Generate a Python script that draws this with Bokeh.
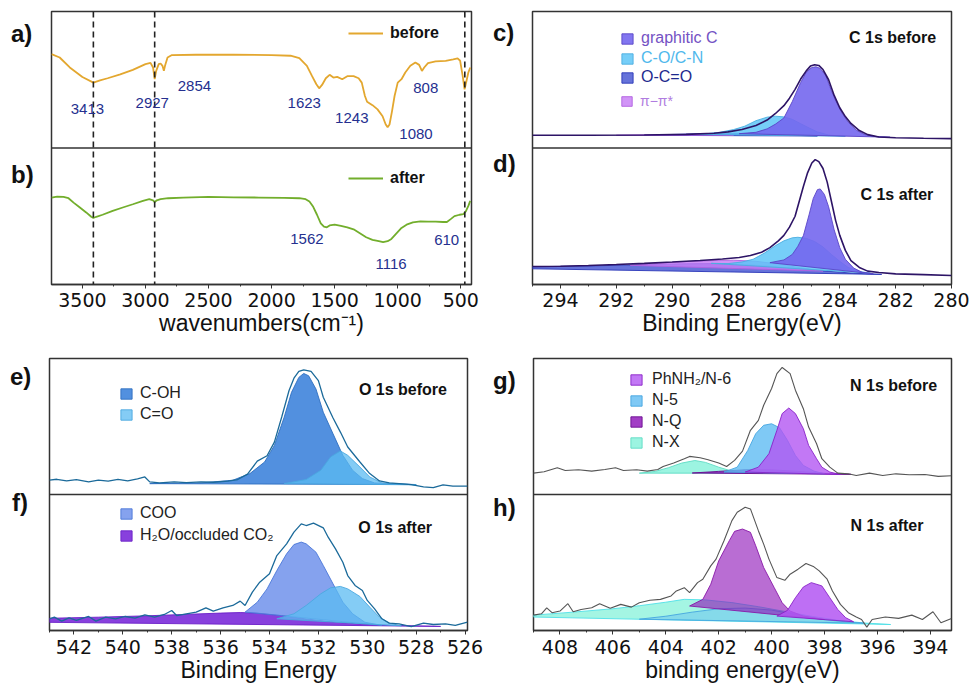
from bokeh.plotting import figure
from bokeh.models import Range1d, Span, Label, Legend, LegendItem, SingleIntervalTicker, Div
from bokeh.layouts import row, column
from bokeh.embed import file_html
from bokeh.resources import INLINE

FONT = "Liberation Sans"
TICK_FONT = "DejaVu Sans"

# ---------------- FTIR (panels a, b) ----------------
wn_before = [3745, 3680, 3600, 3500, 3413, 3360, 3300, 3200, 3100, 3000, 2960, 2940, 2927, 2915, 2895,
             2880, 2865, 2854, 2845, 2825, 2790, 2600, 2300, 2000, 1850, 1780, 1720, 1680, 1645, 1623,
             1600, 1570, 1540, 1510, 1480, 1440, 1400, 1350, 1310, 1285, 1260, 1243, 1200, 1160, 1120,
             1095, 1080, 1065, 1045, 1025, 1000, 970, 940, 900, 860, 830, 808, 790, 760, 700,
             620, 560, 525, 505, 485, 470, 455, 440, 425]
t_before = [68.8, 66.3, 59.0, 52.0, 47.9, 49.6, 51.1, 54.0, 57.2, 61.4, 62.4, 59.0, 50.4, 56.5, 61.4,
            61.9, 60.2, 56.5, 60.2, 66.3, 68.1, 68.3, 68.3, 68.1, 67.6, 65.8, 60.2, 52.8, 46.7, 43.7,
            46.2, 51.1, 53.6, 51.6, 52.1, 50.4, 52.6, 52.6, 51.1, 47.9, 38.1, 33.9, 31.4, 28.3, 23.3,
            17.2, 15.2, 17.2, 27.0, 38.1, 47.9, 50.4, 55.3, 60.2, 62.7, 60.9, 56.5, 59.0, 62.2, 63.4,
            63.9, 64.9, 65.6, 63.9, 52.8, 43.0, 49.1, 55.3, 59.0]
wn_after = [3745, 3700, 3650, 3610, 3570, 3520, 3470, 3430, 3413, 3390, 3340, 3260, 3180, 3100, 3020,
            2970, 2940, 2927, 2910, 2880, 2820, 2700, 2500, 2300, 2100, 1900, 1780, 1730, 1700, 1670,
            1640, 1610, 1585, 1562, 1540, 1500, 1450, 1400, 1350, 1300, 1250, 1200, 1150, 1116, 1080,
            1050, 1010, 970, 930, 880, 820, 760, 700, 640, 610, 580, 550, 510, 480, 460, 440, 425]
t_after = [63.7, 64.4, 64.2, 63.2, 60.0, 56.4, 52.8, 49.6, 48.7, 49.6, 51.1, 54.0, 56.4, 58.8, 61.3,
           62.5, 61.7, 60.3, 61.7, 62.5, 63.2, 63.7, 64.2, 63.9, 63.7, 63.4, 63.2, 62.5, 60.8, 56.9,
           51.1, 44.8, 42.4, 41.9, 43.3, 43.8, 42.9, 41.9, 40.4, 37.5, 34.6, 32.7, 31.7, 31.0, 31.7,
           33.4, 37.5, 41.4, 43.8, 45.5, 46.2, 46.0, 46.0, 45.8, 45.8, 47.9, 50.1, 51.1, 51.6, 53.5,
           57.6, 61.3]
ir_marks = [3413, 2927, 468]
ir_top_labels = ["3413", "2927", "2854", "1623", "1243", "1080", "808"]
ir_top_x = [3460, 2946, 2612, 1741, 1364, 855, 778]
ir_top_y = [28.3, 33.2, 45.5, 33.2, 21.7, 10.6, 44.2]
ir_bot_labels = ["1562", "1116", "610"]
ir_bot_x = [1720, 1053, 612]
ir_bot_y = [33.4, 15.3, 32.7]

# ---------------- C 1s (panels c, d) ----------------
c_env_E = [295.0, 293.0, 291.0, 289.5, 288.5, 288.0, 287.5, 287.0, 286.6, 286.3, 286.0, 285.8, 285.6, 285.4,
           285.2, 285.05, 284.9, 284.75, 284.6, 284.4, 284.2, 284.0, 283.8, 283.6, 283.3, 283.0, 282.6,
           282.0, 281.0, 280.0]
c_env = [9.3, 9.3, 9.5, 10.0, 10.8, 11.8, 13.5, 16.5, 20.5, 25.3, 31.0, 36.5, 43.0, 50.5,
         56.5, 60.0, 61.0, 60.5, 57.5, 50.0, 38.5, 29.5, 23.0, 18.0, 12.8, 9.8, 8.1,
         7.5, 7.1, 6.9]
c_gr_E = [287.6, 287.0, 286.6, 286.3, 286.0, 285.7, 285.4, 285.2, 285.0, 284.85, 284.7, 284.5, 284.3, 284.1,
          283.9, 283.7, 283.4, 283.1, 282.7, 282.2]
c_gr = [10.5, 11.5, 14.0, 17.5, 22.0, 34.0, 48.0, 55.5, 59.0, 59.5, 58.3, 53.0, 42.0, 32.5,
        25.0, 19.0, 13.0, 9.8, 8.4, 7.9]
c_co_E = [289.0, 288.3, 287.8, 287.4, 287.0, 286.6, 286.3, 286.0, 285.7, 285.4, 285.1, 284.8, 284.4, 283.8]
c_co = [10.0, 11.5, 13.5, 16.0, 20.0, 22.6, 23.3, 22.8, 21.0, 17.8, 14.7, 11.8, 9.5, 8.6]
c_oco_E = [291.0, 290.0, 289.0, 288.2, 287.4, 286.6, 285.8, 284.8]
c_oco = [9.3, 9.9, 10.5, 10.8, 10.6, 10.0, 9.4, 8.8]
c_pi_E = [292.0, 291.0, 290.0, 289.2, 288.5, 287.8]
c_pi = [9.3, 9.6, 9.9, 10.0, 9.8, 9.4]

d_env_E = [295.0, 294.0, 293.0, 292.0, 291.0, 290.0, 289.0, 288.2, 287.6, 287.2, 286.8, 286.5, 286.2, 286.0,
           285.8, 285.6, 285.45, 285.3, 285.15, 285.0, 284.88, 284.75, 284.6, 284.45, 284.3, 284.15, 284.0,
           283.8, 283.6, 283.3, 283.0, 282.6, 282.0, 281.0, 280.0]
d_env = [13.2, 13.4, 13.9, 14.6, 15.5, 16.5, 17.6, 18.7, 19.8, 21.2, 23.6, 27.0, 32.0, 36.0,
         42.0, 50.0, 61.0, 72.0, 82.0, 89.0, 91.5, 90.0, 85.0, 75.0, 61.0, 47.0, 36.0,
         25.0, 17.5, 12.5, 9.8, 8.8, 7.8, 7.2, 6.6]
d_gr_E = [286.5, 286.0, 285.7, 285.5, 285.3, 285.1, 284.95, 284.8, 284.7, 284.55, 284.4, 284.2, 284.0, 283.8,
          283.5, 283.2, 282.8]
d_gr = [16.0, 18.0, 22.0, 28.0, 36.0, 51.0, 63.0, 69.5, 70.0, 66.0, 57.0, 40.0, 27.0, 18.5,
        12.0, 9.0, 7.8]
d_co_E = [288.6, 288.0, 287.5, 287.1, 286.7, 286.3, 286.0, 285.7, 285.5, 285.2, 284.9, 284.6, 284.3, 284.0,
          283.7, 283.3, 282.9]
d_co = [15.5, 15.3, 16.5, 18.5, 23.0, 28.5, 32.0, 34.2, 34.6, 33.8, 31.5, 27.5, 22.0, 17.0,
        12.5, 9.5, 8.3]
d_oco_E = [295.0, 295.0, 293.0, 291.0, 289.5, 288.5, 287.5, 286.5, 285.5, 284.5, 283.5, 282.5]
d_oco = [11.5, 13.0, 13.6, 14.5, 15.2, 15.3, 14.8, 13.5, 11.8, 9.8, 8.3, 7.4]
d_pi_E = [291.5, 290.5, 289.5, 288.5, 287.8, 287.0, 286.2, 285.4, 284.6]
d_pi = [14.0, 15.5, 16.8, 17.6, 17.8, 17.0, 15.0, 12.2, 9.8]

# ---------------- O 1s (panels e, f) ----------------
e_env_E = [543.0, 542.7, 542.3, 541.9, 541.4, 541.0, 540.6, 540.2, 539.8, 539.4, 539.1, 538.9, 538.5, 537.9,
           537.4, 536.8, 536.3, 535.7, 535.3, 534.9, 534.5, 534.1, 533.8, 533.5, 533.2, 533.0, 532.8, 532.6,
           532.3, 532.0, 531.8, 531.4, 531.1, 530.8, 530.3, 529.9, 529.5, 529.1, 528.7, 528.2, 527.7, 527.3,
           526.9, 526.5, 525.9]
e_env = [10.5, 11.2, 10.0, 11.0, 9.3, 10.5, 9.8, 11.2, 10.0, 11.5, 12.9, 9.3, 8.5, 9.3,
         8.8, 9.3, 9.0, 9.8, 11.0, 15.0, 24.5, 28.5, 38.5, 57.0, 76.5, 85.5, 90.5, 91.7,
         90.5, 83.7, 71.5, 56.3, 45.9, 34.9, 23.9, 15.4, 10.0, 8.5, 8.0, 7.3, 5.6, 5.1,
         7.1, 6.1, 6.1]
e_coh_E = [538.9, 536.8, 535.5, 534.8, 534.2, 533.8, 533.4, 533.1, 532.8, 532.6, 532.4, 532.1, 531.8, 531.4,
           531.0, 530.6, 530.2, 529.7, 528.0]
e_coh = [8.0, 8.5, 10.5, 15.4, 23.9, 36.1, 56.8, 75.1, 86.1, 89.0, 87.3, 77.6, 60.5, 44.6,
         28.8, 17.8, 11.7, 8.5, 7.3]
e_co_E = [533.4, 532.5, 531.9, 531.5, 531.1, 530.8, 530.3, 529.9, 529.4, 528.0]
e_co = [8.0, 11.0, 17.8, 27.6, 32.0, 28.8, 20.2, 12.9, 8.5, 7.1]

f_env_E = [543.0, 542.8, 542.5, 542.2, 541.9, 541.4, 541.1, 540.7, 540.3, 539.9, 539.5, 539.1, 538.7, 538.3,
           538.0, 537.8, 537.4, 537.0, 536.6, 536.3, 535.9, 535.5, 535.2, 535.0, 534.7, 534.4, 534.0, 533.7,
           533.3, 533.0, 532.7, 532.5, 532.2, 531.8, 531.6, 531.3, 531.0, 530.8, 530.5, 530.2, 530.0, 529.7,
           529.4, 529.1, 528.7, 528.2, 527.7, 527.3, 526.8, 526.4, 525.9]
f_env = [8.6, 9.8, 6.9, 9.3, 7.4, 10.3, 6.9, 9.8, 8.6, 10.3, 9.1, 11.5, 9.8, 11.8,
         14.7, 11.0, 12.3, 13.5, 16.7, 14.2, 16.7, 18.4, 21.6, 18.4, 28.2, 35.5, 41.7, 55.1,
         63.7, 72.3, 78.4, 77.2, 78.9, 75.5, 68.6, 60.0, 50.2, 40.4, 33.1, 29.4, 22.1, 15.9,
         8.6, 5.4, 4.9, 2.9, 5.4, 4.4, 4.9, 3.7, 6.1]
f_coo_E = [535.0, 534.5, 534.1, 533.7, 533.3, 533.0, 532.7, 532.5, 532.1, 531.8, 531.4, 531.0, 530.6, 530.1, 529.4]
f_coo = [13.5, 20.8, 30.6, 44.1, 56.4, 63.2, 65.0, 63.7, 57.6, 47.8, 34.3, 20.8, 12.3, 6.1, 3.7]
f_co_E = [533.7, 533.0, 532.5, 531.9, 531.5, 531.1, 530.8, 530.3, 529.9, 529.5, 529.1, 528.6]
f_co = [8.6, 12.3, 18.4, 27.0, 31.4, 32.4, 30.6, 25.0, 17.2, 9.8, 5.4, 3.4]
f_h2o_E = [543.0, 543.0, 541.0, 539.0, 537.5, 536.0, 535.2, 534.5, 533.5, 532.5, 531.5, 530.5, 529.5, 528.0, 527.0]
f_h2o = [6.0, 9.0, 9.8, 10.8, 11.8, 12.8, 13.2, 12.8, 11.0, 8.5, 6.5, 5.0, 4.0, 3.4, 3.0]

# ---------------- N 1s (panels g, h) ----------------
g_env_E = [409.0, 408.6, 408.1, 407.8, 407.3, 406.8, 406.3, 405.9, 405.6, 405.1, 404.7, 404.3, 404.1, 403.7,
           403.3, 403.1, 402.7, 402.4, 402.0, 401.7, 401.4, 401.1, 400.8, 400.5, 400.3, 400.0, 399.8, 399.6,
           399.3, 399.1, 398.8, 398.6, 398.3, 398.1, 397.8, 397.5, 397.1, 396.8, 396.3, 395.8, 395.3, 394.8,
           394.2, 393.7, 393.2]
g_env = [15.7, 16.7, 19.7, 17.7, 18.2, 17.2, 18.4, 19.7, 17.7, 18.2, 17.2, 18.4, 20.6, 23.1,
         26.3, 28.0, 27.0, 25.6, 23.1, 20.6, 25.1, 31.9, 47.2, 54.5, 65.6, 77.9, 88.9, 93.4,
         88.9, 76.7, 63.1, 49.6, 37.3, 26.3, 20.1, 15.7, 15.2, 14.0, 15.7, 14.0, 15.2, 14.5,
         14.7, 13.3, 13.8]
g_ph_E = [401.0, 400.5, 400.1, 399.8, 399.6, 399.35, 399.1, 398.8, 398.6, 398.3, 398.1, 397.8, 397.4]
g_ph = [16.5, 20.1, 30.0, 47.2, 59.5, 63.6, 59.5, 48.4, 36.1, 26.3, 20.1, 16.5, 14.7]
g_n5_E = [401.8, 401.3, 400.9, 400.6, 400.3, 400.0, 399.7, 399.4, 399.1, 398.8, 398.4, 398.0]
g_n5 = [16.5, 20.1, 32.4, 44.7, 50.9, 52.0, 49.1, 39.8, 28.7, 21.4, 17.2, 15.2]
g_nq_E = [403.0, 402.0, 401.0, 400.0, 399.0, 398.0, 397.0]
g_nq = [15.8, 17.0, 18.2, 18.2, 17.0, 15.6, 14.8]
g_nx_E = [405.0, 404.4, 403.9, 403.4, 402.9, 402.5, 402.0, 401.5, 400.9]
g_nx = [15.7, 17.0, 19.7, 23.1, 25.0, 23.6, 20.1, 17.2, 15.7]

h_env_E = [409.0, 408.7, 408.5, 408.3, 408.0, 407.7, 407.5, 407.2, 406.8, 406.5, 406.1, 405.7, 405.3, 405.0,
           404.6, 404.2, 403.8, 403.6, 403.3, 403.1, 402.8, 402.6, 402.3, 402.1, 401.8, 401.5, 401.3, 401.0,
           400.8, 400.5, 400.3, 400.1, 399.8, 399.5, 399.3, 399.0, 398.7, 398.4, 398.2, 397.9, 397.7, 397.4,
           397.1, 396.8, 396.6, 396.4, 396.2, 395.7, 395.2, 394.7, 394.3, 393.9, 393.6, 393.2]
h_env = [11.3, 12.3, 16.7, 13.1, 14.3, 19.7, 13.8, 15.5, 16.7, 19.7, 16.3, 19.2, 17.2, 20.4,
         22.2, 22.9, 25.4, 29.1, 31.5, 27.8, 35.2, 37.7, 47.5, 52.5, 66.0, 80.8, 86.9, 90.6,
         89.4, 73.4, 63.5, 52.5, 38.9, 36.9, 41.4, 45.1, 49.3, 46.8, 43.8, 37.7, 29.1, 19.2,
         13.1, 9.9, 8.1, 2.5, 8.1, 9.9, 8.9, 11.3, 8.1, 13.8, 5.7, 8.9]
h_nq_E = [403.1, 402.6, 402.3, 402.0, 401.6, 401.4, 401.1, 400.8, 400.6, 400.3, 399.9, 399.6, 399.3, 398.8, 398.0]
h_nq = [18.0, 22.9, 34.0, 51.2, 66.0, 72.9, 74.6, 72.2, 62.3, 46.3, 31.5, 20.4, 14.3, 10.6, 8.1]
h_ph_E = [399.8, 399.4, 399.1, 398.8, 398.5, 398.1, 397.8, 397.5, 397.2, 396.9]
h_ph = [10.6, 14.8, 24.1, 32.0, 35.2, 32.8, 24.1, 15.5, 9.4, 6.4]
h_nx_E = [409.0, 409.0, 407.5, 406.0, 405.0, 404.0, 403.3, 402.5, 401.5, 400.5, 399.5, 398.5, 397.5, 396.5, 395.5]
h_nx = [9.9, 11.3, 13.5, 16.0, 18.2, 20.8, 22.9, 22.5, 20.5, 17.5, 14.0, 10.5, 7.5, 5.5, 4.4]
h_n5_E = [405.0, 404.0, 403.0, 402.0, 401.0, 400.0, 399.0, 398.0, 397.0, 396.5]
h_n5 = [8.3, 10.5, 13.5, 16.0, 16.5, 15.0, 11.5, 8.0, 6.0, 5.4]

# ---------------- colours ----------------
C_GR, C_CO, C_OCO, C_PI = "#7467EE", "#5EC6F7", "#4454D2", "#C77DF5"
C_COH, C_CEO, C_COO, C_H2O = "#3F84DC", "#5BBBF2", "#6A8EEA", "#7B2BD9"
C_PH, C_N5, C_NQ, C_NX = "#B356F2", "#5FBBF2", "#8E14B8", "#86F2DA"
AX = "#333333"


def base_fig(w, h, bl, br, bt, bb, xs, xe, interval, xlabel, lab_standoff):
    p = figure(width=w, height=h, x_range=Range1d(xs, xe), y_range=Range1d(0, 2),
               output_backend="svg", toolbar_location=None, y_axis_location=None,
               min_border_left=bl, min_border_right=br, min_border_top=bt, min_border_bottom=bb,
               background_fill_color="white", border_fill_color="white", margin=(0, 0, 0, 0))
    p.extra_y_ranges = {"top": Range1d(-100, 100), "bot": Range1d(0, 200)}
    p.xgrid.visible = False
    p.ygrid.visible = False
    p.outline_line_color = AX
    p.outline_line_width = 1.5
    ax = p.xaxis[0]
    ax.ticker = SingleIntervalTicker(interval=interval, num_minor_ticks=2)
    ax.axis_label = xlabel
    ax.axis_line_color = AX
    ax.axis_line_width = 1.5
    ax.major_tick_line_color = AX
    ax.minor_tick_line_color = AX
    ax.major_tick_in = 0
    ax.major_tick_out = 4
    ax.minor_tick_in = 0
    ax.minor_tick_out = 2
    ax.major_label_standoff = lab_standoff
    ax.major_label_text_font = TICK_FONT
    ax.major_label_text_font_size = "19px"
    ax.major_label_text_color = "#111111"
    ax.axis_label_text_font = FONT
    ax.axis_label_text_font_size = "23px"
    ax.axis_label_text_font_style = "normal"
    ax.axis_label_text_color = "#111111"
    ax.axis_label_standoff = 0
    p.add_layout(Span(location=1, dimension="width", line_color=AX, line_width=1.5))
    return p


def text(p, x, y, s, rng, size, color, bold=False, align="center"):
    p.add_layout(Label(x=x, y=y, y_range_name=rng, text=s, text_font=FONT, text_font_size=size,
                       text_color=color, text_font_style="bold" if bold else "normal",
                       text_align=align, text_baseline="middle"))


def legend(p, items, loc, color, gw=14, gh=13, standoff=7, spacing=3, size="16px", bold=False):
    lg = Legend(items=[LegendItem(label=l, renderers=[r]) for l, r in items], location=loc,
                orientation="vertical", padding=0, margin=0, spacing=spacing,
                glyph_width=gw, glyph_height=gh, label_height=gh, label_standoff=standoff,
                label_text_font=FONT, label_text_font_size=size, label_text_color=color,
                label_text_font_style="bold" if bold else "normal",
                border_line_alpha=0, background_fill_alpha=0)
    p.add_layout(lg)


def comp(p, E, v, rng, color, edge, alpha=0.82):
    return p.patch(E, v, y_range_name=rng, fill_color=color, fill_alpha=alpha,
                   line_color=edge, line_width=1.0, line_alpha=0.9)


def letters(width, height, items):
    spans = "".join(
        '<span style="position:absolute;left:%dpx;top:%dpx;line-height:24px;">%s</span>' % (x, y, s)
        for s, x, y in items)
    html = ('<div style="position:relative;width:%dpx;height:%dpx;font-family:\'Liberation Sans\';'
            'font-weight:bold;font-size:24px;color:#111111;">%s</div>' % (width, height, spans))
    return Div(text=html, width=width, height=height, margin=(0, 0, 0, 0))


# ---------------- panel a/b ----------------
p_ab = base_fig(450, 345, 11, 19, 11, 61, 3745, 415, 500, "wavenumbers(cm⁻¹)", 4)
for m in ir_marks:
    p_ab.add_layout(Span(location=m, dimension="height", line_color="#222222", line_width=1.6,
                         line_dash="6 4"))
r_bef = p_ab.line(wn_before, t_before, y_range_name="top", line_color="#E3A72F", line_width=1.8)
r_aft = p_ab.line(wn_after, t_after, y_range_name="bot", line_color="#72AE2C", line_width=1.8)
for s, x, y in zip(ir_top_labels, ir_top_x, ir_top_y):
    text(p_ab, x, y, s, "top", "15px", "#25308F")
for s, x, y in zip(ir_bot_labels, ir_bot_x, ir_bot_y):
    text(p_ab, x, y, s, "bot", "15px", "#25308F")
legend(p_ab, [("before", r_bef)], (297, 240.7), "#111111", gw=35, gh=20, standoff=7, size="16px", bold=True)
legend(p_ab, [("after", r_aft)], (297, 96.3), "#111111", gw=35, gh=20, standoff=7, size="16px", bold=True)

# ---------------- panel c/d ----------------
p_cd = base_fig(440, 345, 2, 19, 11, 61, 295, 280, 2, "Binding Energy(eV)", 4)
r_c_oco = comp(p_cd, c_oco_E, c_oco, "top", C_OCO, "#2A36B8")
r_c_pi = comp(p_cd, c_pi_E, c_pi, "top", C_PI, "#B060E0")
r_c_co = comp(p_cd, c_co_E, c_co, "top", C_CO, "#4AAEE0", alpha=0.85)
r_c_gr = comp(p_cd, c_gr_E, c_gr, "top", C_GR, "#5A45C8", alpha=0.9)
p_cd.line(c_env_E, c_env, y_range_name="top", line_color="#2D1466", line_width=1.6)
r_d_oco = comp(p_cd, d_oco_E, d_oco, "bot", C_OCO, "#2A36B8")
r_d_pi = comp(p_cd, d_pi_E, d_pi, "bot", C_PI, "#B060E0")
r_d_co = comp(p_cd, d_co_E, d_co, "bot", C_CO, "#4AAEE0", alpha=0.85)
r_d_gr = comp(p_cd, d_gr_E, d_gr, "bot", C_GR, "#5A45C8", alpha=0.9)
p_cd.line(d_env_E, d_env, y_range_name="bot", line_color="#2D1466", line_width=1.6)
legend(p_cd, [("graphitic C", r_c_gr)], (88, 237), "#7452C4")
legend(p_cd, [("C-O/C-N", r_c_co)], (88, 217), "#4FB8EC")
legend(p_cd, [("O-C=O", r_c_oco)], (88, 198), "#1E2A8E")
legend(p_cd, [("π−π*", r_c_pi)], (88, 175), "#B07CE0", gw=13, gh=12, size="14px")
text(p_cd, 280.55, 81.1, "C 1s before", "top", "16px", "#111111", bold=True, align="right")
text(p_cd, 280.65, 66.1, "C 1s after", "bot", "16px", "#111111", bold=True, align="right")

# ---------------- panel e/f ----------------
p_ef = base_fig(450, 343, 9, 23, 13, 58, 543.0, 525.9, 2, "Binding Energy", 5)
r_e_coh = comp(p_ef, e_coh_E, e_coh, "top", C_COH, "#2F6FC0", alpha=0.9)
r_e_co = comp(p_ef, e_co_E, e_co, "top", C_CEO, "#4AA8E0", alpha=0.75)
p_ef.line(e_env_E, e_env, y_range_name="top", line_color="#1B6A9A", line_width=1.3)
r_f_h2o = comp(p_ef, f_h2o_E, f_h2o, "bot", C_H2O, "#6A20C8", alpha=0.9)
r_f_coo = comp(p_ef, f_coo_E, f_coo, "bot", C_COO, "#4A78D8")
r_f_co = comp(p_ef, f_co_E, f_co, "bot", C_CEO, "#4AA8E0", alpha=0.75)
p_ef.line(f_env_E, f_env, y_range_name="bot", line_color="#1B6A9A", line_width=1.3)
legend(p_ef, [("C-OH", r_e_coh), ("C=O", r_e_co)], (70, 207), "#222222", spacing=3)
legend(p_ef, [("COO", r_f_coo), ("H₂O/occluded CO₂", r_f_h2o)], (70, 86), "#222222", spacing=4)
text(p_ef, 526.74, 76.9, "O 1s before", "top", "16px", "#111111", bold=True, align="right")
text(p_ef, 527.35, 76.1, "O 1s after", "bot", "16px", "#111111", bold=True, align="right")

# ---------------- panel g/h ----------------
p_gh = base_fig(440, 343, 3, 19, 13, 58, 409.0, 393.2, 2, "binding energy(eV)", 5)
r_g_nx = comp(p_gh, g_nx_E, g_nx, "top", C_NX, "#5EDCC4")
r_g_nq = comp(p_gh, g_nq_E, g_nq, "top", C_NQ, "#6A0C90")
r_g_n5 = comp(p_gh, g_n5_E, g_n5, "top", C_N5, "#45A5E0", alpha=0.8)
r_g_ph = comp(p_gh, g_ph_E, g_ph, "top", C_PH, "#8A22C8", alpha=0.8)
p_gh.line(g_env_E, g_env, y_range_name="top", line_color="#555555", line_width=1.1)
comp(p_gh, h_nx_E, h_nx, "bot", C_NX, "#4FE0E8", alpha=0.75)
comp(p_gh, h_n5_E, h_n5, "bot", C_N5, "#45A5E0", alpha=0.45)
comp(p_gh, h_nq_E, h_nq, "bot", C_NQ, "#8A1AA8", alpha=0.62)
comp(p_gh, h_ph_E, h_ph, "bot", C_PH, "#8A22C8", alpha=0.85)
p_gh.line(h_env_E, h_env, y_range_name="bot", line_color="#555555", line_width=1.1)
legend(p_gh, [("PhNH₂/N-6", r_g_ph), ("N-5", r_g_n5), ("N-Q", r_g_nq), ("N-X", r_g_nx)],
       (96, 179), "#222222", standoff=9, spacing=3)
text(p_gh, 393.74, 80.3, "N 1s before", "top", "16px", "#111111", bold=True, align="right")
text(p_gh, 394.26, 77.1, "N 1s after", "bot", "16px", "#111111", bold=True, align="right")

# ---------------- panel letters ----------------
d_ab = letters(40, 345, [("a)", 11, 22), ("b)", 11, 163)])
d_cd = letters(40, 345, [("c)", 3, 21), ("d)", 3, 152)])
d_ef = letters(40, 343, [("e)", 10, 20), ("f)", 12, 146)])
d_gh = letters(40, 343, [("g)", 3, 24), ("h)", 3, 151)])

layout = column(row(d_ab, p_ab, d_cd, p_cd), row(d_ef, p_ef, d_gh, p_gh))
open("out.html", "w").write(file_html(layout, INLINE))
